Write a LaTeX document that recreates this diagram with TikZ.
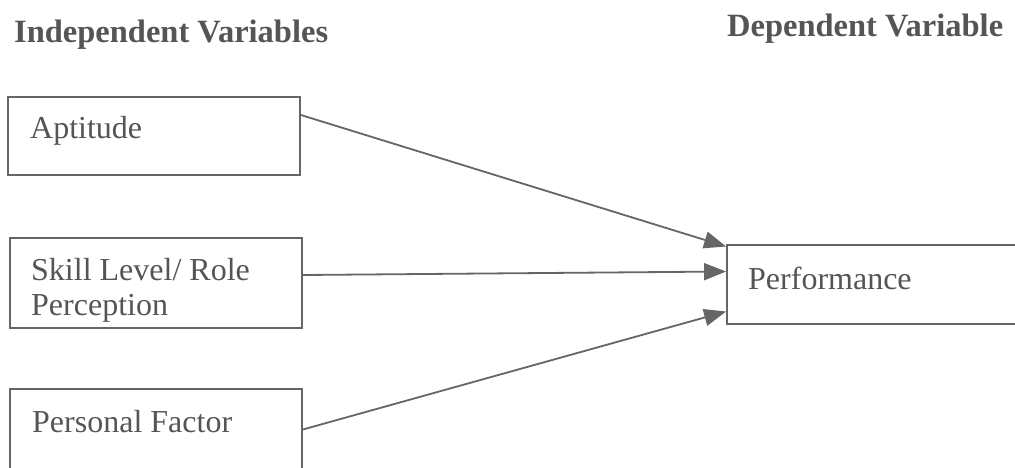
\documentclass[tikz,border=0pt]{standalone}
\usepackage{fontspec}
\setmainfont{Liberation Serif}
\usetikzlibrary{arrows.meta,calc}
\definecolor{ink}{HTML}{555555}
\definecolor{edge}{HTML}{666666}
\begin{document}
\begin{tikzpicture}[x=1pt,y=-1pt,
  box/.style={draw=edge, line width=1.8pt, rectangle, inner sep=0pt},
  lbl/.style={text=ink, font=\fontsize{32}{35}\selectfont, align=left, inner sep=0pt},
  hdr/.style={text=ink, font=\fontsize{32.5}{34}\selectfont\bfseries, inner sep=0pt},
  arr/.style={draw=edge, line width=1.8pt, -{Triangle[length=22pt,width=17pt]}}]
\useasboundingbox[fill=white] (0,0) rectangle (1015,467);
\begin{scope}
\clip (0,0) rectangle (1015,467);
\node[box, minimum width=292pt, minimum height=78pt] (apt) at (154,136) {};
\node[box, minimum width=292pt, minimum height=90pt] (skl) at (156,283) {};
\node[box, minimum width=292pt, minimum height=81pt] (pf) at (156,429.5) {};
\node[box, minimum width=300pt, minimum height=79pt] (perf) at (877,284.5) {};
\end{scope}
\node[lbl, anchor=west] (aptt) at (30,131) {Aptitude};
\node[lbl, anchor=west] (sklt) at (31,290) {Skill Level/ Role\\Perception};
\node[lbl, anchor=west] (pft) at (32,422) {Personal Factor};
\node[lbl, anchor=west] (perft) at (748,278) {Performance};
\node[hdr, anchor=base west] (ivh) at (14,42) {Independent Variables};
\node[hdr, anchor=base west] (dvh) at (727,36) {Dependent Variable};
\draw[arr] ([yshift=21pt]apt.east) -- ([yshift=38pt]perf.west);
\draw[arr] ([yshift=8pt]skl.east) -- ([yshift=13pt]perf.west);
\draw[arr] (pf.east) -- ([yshift=-27pt]perf.west);
\end{tikzpicture}
\end{document}
